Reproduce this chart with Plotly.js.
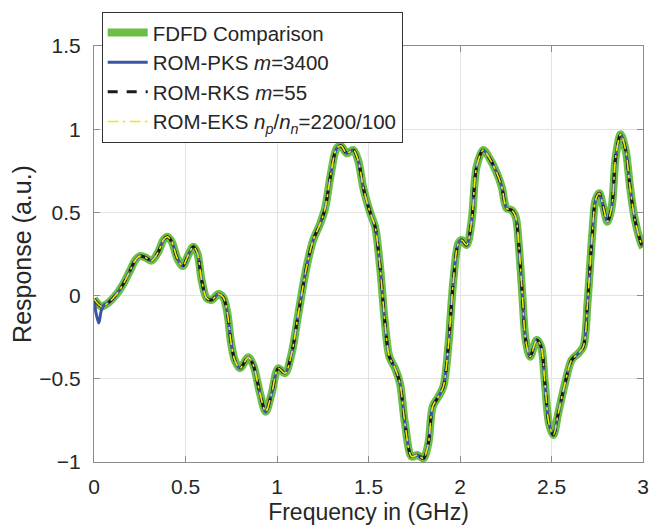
<!DOCTYPE html>
<html>
<head>
<meta charset="utf-8">
<script src="https://cdn.plot.ly/plotly-3.0.1.min.js"></script>
<style>
  html, body { margin: 0; padding: 0; background: #ffffff; }
  #chart { width: 666px; height: 525px; }
</style>
</head>
<body>
<div id="chart"></div>
<script>
// Frequency (GHz) and response (a.u.)
const freq = [0, 0.04, 0.07, 0.124, 0.16, 0.197, 0.224, 0.251, 0.279, 0.315, 0.352, 0.379, 0.401, 0.425, 0.455, 0.485, 0.515, 0.543, 0.565, 0.588, 0.616, 0.643, 0.679, 0.706, 0.728, 0.75, 0.77, 0.798, 0.843, 0.87, 0.907, 0.938, 0.971, 1.007, 1.044, 1.08, 1.117, 1.162, 1.198, 1.235, 1.262, 1.295, 1.326, 1.35, 1.381, 1.417, 1.444, 1.471, 1.495, 1.515, 1.536, 1.563, 1.59, 1.614, 1.645, 1.672, 1.699, 1.736, 1.767, 1.8, 1.827, 1.851, 1.882, 1.909, 1.936, 1.964, 1.991, 2.009, 2.036, 2.064, 2.091, 2.127, 2.164, 2.2, 2.228, 2.255, 2.282, 2.304, 2.322, 2.34, 2.359, 2.383, 2.419, 2.443, 2.464, 2.486, 2.51, 2.537, 2.574, 2.61, 2.647, 2.674, 2.698, 2.723, 2.741, 2.761, 2.783, 2.805, 2.829, 2.851, 2.878, 2.905, 2.929, 2.956, 2.993, 3.0];
const fdfdResp = [-0.02, -0.065, -0.05, 0.01, 0.07, 0.15, 0.21, 0.238, 0.23, 0.21, 0.264, 0.334, 0.354, 0.324, 0.224, 0.178, 0.244, 0.294, 0.254, 0.094, -0.016, -0.026, 0.01, -0.01, -0.1, -0.29, -0.39, -0.437, -0.371, -0.417, -0.587, -0.698, -0.587, -0.437, -0.467, -0.347, -0.107, 0.174, 0.334, 0.43, 0.52, 0.735, 0.885, 0.9, 0.855, 0.875, 0.81, 0.65, 0.55, 0.48, 0.414, 0.174, -0.167, -0.367, -0.437, -0.527, -0.767, -0.968, -0.958, -0.978, -0.888, -0.667, -0.607, -0.547, -0.307, 0.094, 0.314, 0.334, 0.304, 0.454, 0.775, 0.875, 0.82, 0.74, 0.654, 0.524, 0.514, 0.474, 0.294, 0.014, -0.267, -0.367, -0.267, -0.307, -0.527, -0.767, -0.838, -0.707, -0.527, -0.387, -0.347, -0.307, -0.026, 0.374, 0.575, 0.615, 0.534, 0.444, 0.534, 0.835, 0.969, 0.875, 0.654, 0.454, 0.304, 0.29];
// ROM-PKS differs only near 0 GHz (early dip)
const pksStartFreq = [0, 0.012, 0.026, 0.04, 0.056];
const pksStartResp = [-0.02, -0.11, -0.165, -0.09, -0.055];

const legendNames = [
  'FDFD Comparison',
  'ROM-PKS <i>m</i>=3400',
  'ROM-RKS <i>m</i>=55',
  'ROM-EKS <i>n</i><sub><i>p</i></sub>/<i>n</i><sub><i>n</i></sub>=2200/100'
];

const pksFreq = pksStartFreq.concat(freq.filter(f => f > 0.06));
const pksResp = pksStartResp.concat(fdfdResp.filter((v, i) => freq[i] > 0.06));

const FONT = '"Liberation Sans", Arial, Helvetica, sans-serif';
const shape = {shape: 'spline', smoothing: 0.9};

const traces = [
  {x: freq, y: fdfdResp, name: legendNames[0], mode: 'lines',
   line: Object.assign({color: '#6cbf45', width: 8}, shape)},
  {x: pksFreq, y: pksResp, name: legendNames[1], mode: 'lines',
   line: Object.assign({color: '#3a55a5', width: 3}, shape)},
  {x: freq, y: fdfdResp, name: legendNames[2], mode: 'lines',
   line: Object.assign({color: '#1a1a1a', width: 3, dash: '10px,9px'}, shape)},
  {x: freq, y: fdfdResp, name: legendNames[3], mode: 'lines',
   line: Object.assign({color: '#f2e60f', width: 1.6, dash: '11px,4px,3px,4px'}, shape)}
];

const axisCommon = {
  showline: true, linecolor: '#8c8c8c', linewidth: 1, mirror: 'ticks',
  ticks: 'inside', ticklen: 6, tickcolor: '#8c8c8c', tickwidth: 1,
  showgrid: true, gridcolor: '#e3e3e3', gridwidth: 1, zeroline: false,
  tickfont: {family: FONT, size: 21, color: '#262626'}
};

const layout = {
  width: 666, height: 525,
  margin: {l: 94, r: 23, t: 46, b: 63},
  paper_bgcolor: '#ffffff', plot_bgcolor: '#ffffff',
  font: {family: FONT, color: '#262626'},
  showlegend: true,
  xaxis: Object.assign({}, axisCommon, {
    range: [0, 3], tick0: 0, dtick: 0.5, ticklabelstandoff: 6,
    title: {text: 'Frequency in (GHz)', font: {family: FONT, size: 23, color: '#262626'}, standoff: 8}
  }),
  yaxis: Object.assign({}, axisCommon, {
    range: [-1, 1.5], tick0: -1, dtick: 0.5, ticklabelstandoff: 8,
    title: {text: 'Response (a.u.)', font: {family: FONT, size: 25, color: '#262626'}, standoff: 0}
  }),
  legend: {
    x: 0.014, y: 1.0825, xanchor: 'left', yanchor: 'top',
    bgcolor: '#ffffff', bordercolor: '#333333', borderwidth: 1,
    font: {family: FONT, size: 20.5, color: '#262626'},
    tracegroupgap: 0, itemwidth: 40
  }
};

Plotly.newPlot('chart', traces, layout, {displayModeBar: false, staticPlot: true});
</script>
</body>
</html>
